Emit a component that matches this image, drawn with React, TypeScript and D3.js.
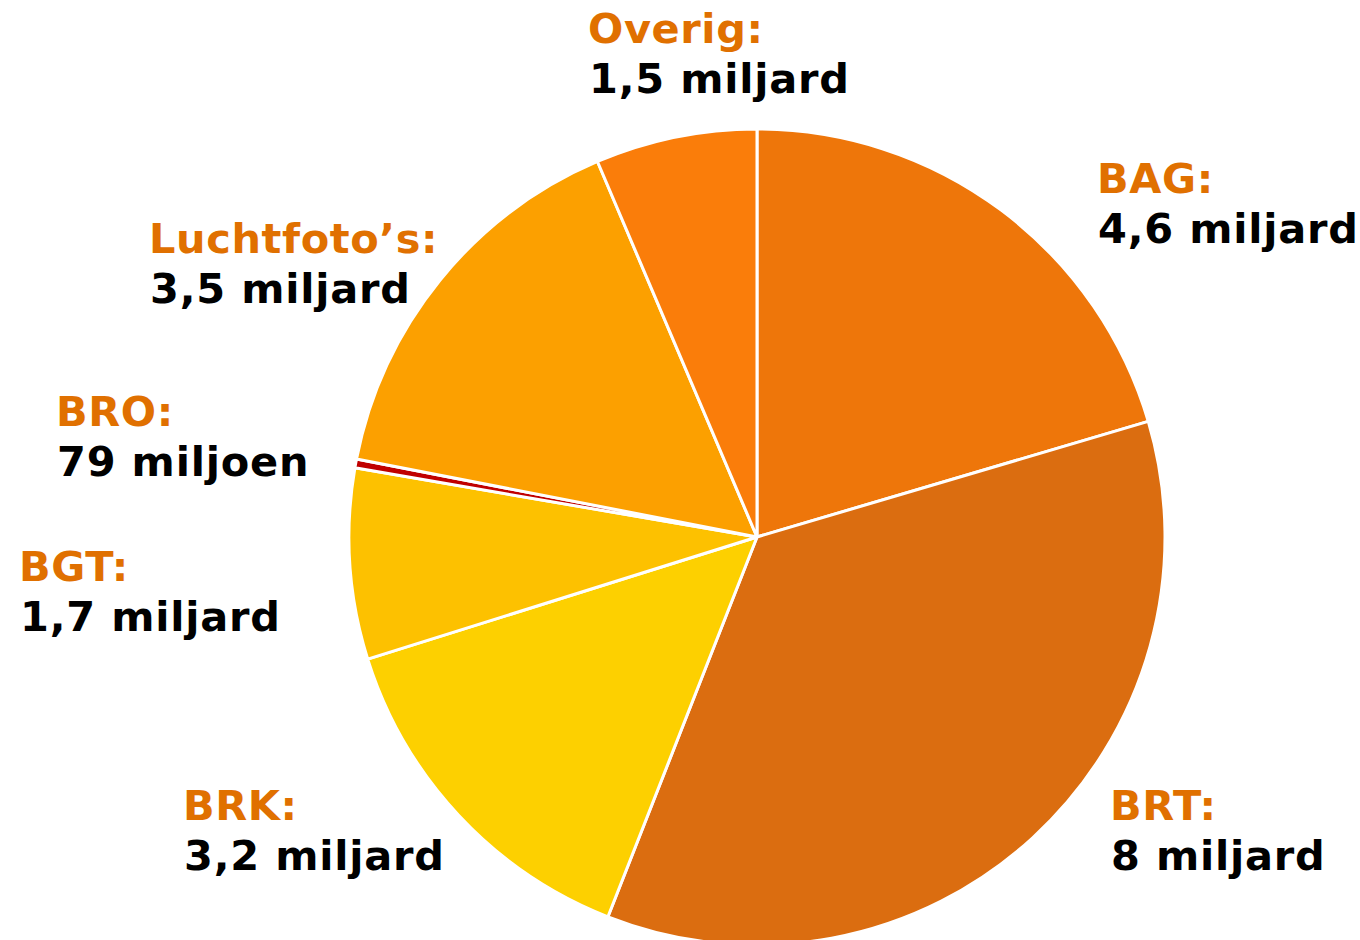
import React from "react";
import * as d3 from "d3";

const categories = ["BAG", "BRT", "BRK", "BGT", "BRO", "Luchtfoto’s", "Overig"];
const values = [4.6, 8, 3.2, 1.7, 0.079, 3.5, 1.44];
const valueLabels = ["4,6 miljard", "8 miljard", "3,2 miljard", "1,7 miljard", "79 miljoen", "3,5 miljard", "1,5 miljard"];
const colors = ["#EE760A", "#DB6D10", "#FDD000", "#FDC100", "#C00000", "#FCA000", "#FA7D0A"];
const labelPos: [number, number][] = [
  [1097, 193],
  [1110, 820],
  [183, 820],
  [19, 581],
  [56, 426],
  [149, 253],
  [588, 43],
];

export default function App() {
  const W = 1360, H = 940;
  const cx = 757, cy = 537, r = 408;
  const pie = d3.pie<number>().sort(null).value((d) => d)(values);
  const arc = d3.arc<d3.PieArcDatum<number>>().innerRadius(0).outerRadius(r);
  return (
    <svg width={W} height={H} style={{ position: "absolute", left: 0, top: 0, background: "#fff" }}
      fontFamily="'DejaVu Sans', Verdana, sans-serif" fontWeight="bold">
      <g transform={`translate(${cx},${cy})`}>
        {pie.map((p, i) => (
          <path key={i} d={arc(p) || ""} fill={colors[i]} stroke="#fff" strokeWidth={3} strokeLinejoin="round" />
        ))}
      </g>
      {categories.map((c, i) => (
        <g key={c}>
          <text x={labelPos[i][0]} y={labelPos[i][1]} fontSize={41.5} letterSpacing={0.6} fill="#E07000">{c}:</text>
          <text x={labelPos[i][0] + 1} y={labelPos[i][1] + 50} fontSize={41.5} letterSpacing={0.8} fill="#000">{valueLabels[i]}</text>
        </g>
      ))}
    </svg>
  );
}
